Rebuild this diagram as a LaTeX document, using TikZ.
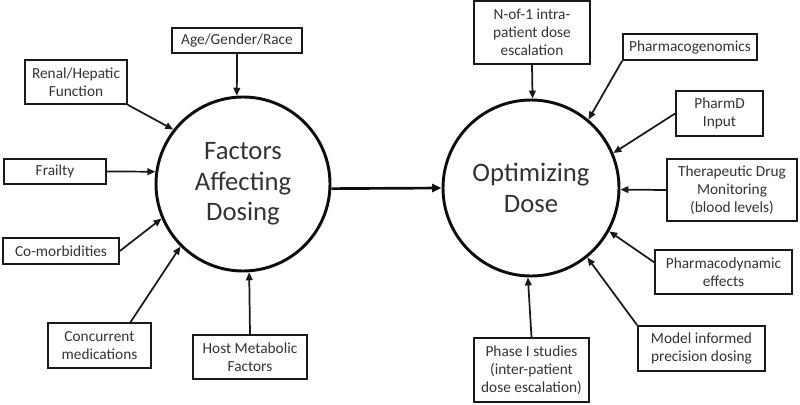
\documentclass[tikz,border=0pt]{standalone}
\usepackage{fontspec}
\setmainfont{Carlito}
\usepackage{tikz}
\usetikzlibrary{arrows.meta}

\begin{document}
\begin{tikzpicture}[
  x=0.75pt, y=-0.75pt,
  every node/.style={font=\fontsize{11.5}{13.5}\selectfont, align=center, text=black!80},
  box/.style={draw=black!90, line width=1.3pt, inner sep=2pt},
  hub/.style={draw=black!95, circle, line width=2.2pt, inner sep=0pt,
              font=\fontsize{20}{23}\selectfont},
  line/.style={-{Triangle[length=6pt,width=5pt]}, line width=1.3pt, black!90}
]
\useasboundingbox (0,0) rectangle (800,404);

\node[hub, minimum size=130.5pt] (fad) at (243,184) {Factors\\Affecting\\Dosing};
\node[hub, minimum size=132pt]   (od)  at (531,188) {Optimizing\\Dose};

\node[box, minimum width=97.5pt, minimum height=18.75pt] (age)     at (237,40.5)  {Age/Gender/Race};
\node[box, minimum width=76.5pt, minimum height=33pt]    (renal)   at (76,82)     {Renal/Hepatic\\Function};
\node[box, minimum width=76.5pt, minimum height=18.75pt] (frailty) at (55,171.5)  {Frailty};
\node[box, minimum width=87pt, minimum height=19.5pt]    (comorb)  at (61,251)    {Co-morbidities};
\node[box, minimum width=77.25pt, minimum height=33.75pt] (concur) at (99.5,345.5) {Concurrent\\medications};
\node[box, minimum width=85.5pt, minimum height=33pt]    (host)    at (250,357)   {Host Metabolic\\Factors};

\node[box, minimum width=87pt, minimum height=47.25pt]    (nof1)   at (532,32.5)  {N-of-1 intra-\\patient dose\\escalation};
\node[box, minimum width=100.5pt, minimum height=19.5pt]  (pgx)    at (690,47)    {Pharmacogenomics};
\node[box, minimum width=65.25pt, minimum height=33.75pt] (pharmd) at (719.5,113.5) {PharmD\\Input};
\node[box, minimum width=97.5pt, minimum height=46.5pt]   (tdm)    at (732,190)   {Therapeutic Drug\\Monitoring\\(blood levels)};
\node[box, minimum width=102.75pt, minimum height=33pt]   (pd)     at (723.5,272) {Pharmacodynamic\\effects};
\node[box, minimum width=95.25pt, minimum height=33.75pt] (mipd)   at (701.5,348.5) {Model informed\\precision dosing};
\node[box, minimum width=86.25pt, minimum height=48pt]    (phase1) at (531.5,370) {Phase I studies\\(inter-patient\\dose escalation)};

\draw[line] (age.south)         -- (fad.94);
\draw[line] (renal.south east)  -- (fad.142.7);
\draw[line] (frailty.east)      -- (fad.172);
\draw[line] (comorb.east)       -- (fad.203.6);
\draw[line] (concur.37)         -- (fad.225.9);
\draw[line] (host.north)        -- (fad.274.5);

\draw[-{Triangle[length=7pt,width=6pt]}, line width=2pt, black!95] (fad.-3) -- (od.west);

\draw[line] (nof1.south)        -- (od.89);
\draw[line] (pgx.south west)    -- (od.50.1);
\draw[line] (pharmd.west)       -- (od.23.7);
\draw[line] (tdm.west)          -- (od.-1);
\draw[line] (pd.172)            -- (od.-29);
\draw[line] (mipd.north west)   -- (od.-51);
\draw[line] (phase1.north)      -- (od.268.7);
\end{tikzpicture}
\end{document}
